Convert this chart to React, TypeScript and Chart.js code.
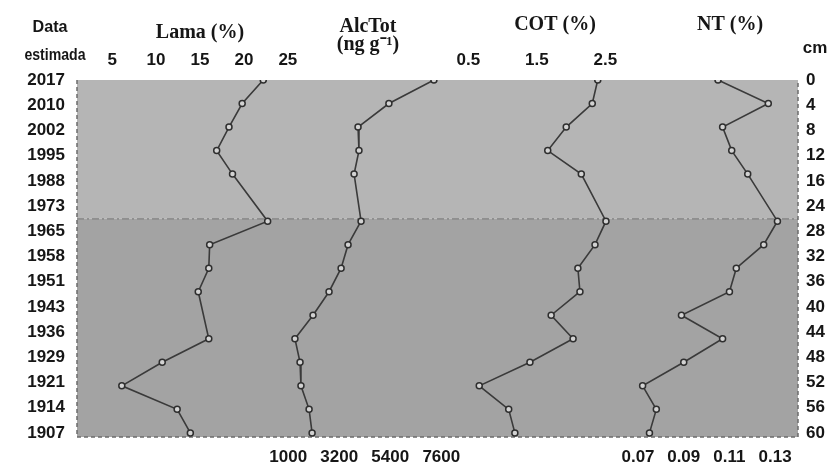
import React, { useEffect, useRef } from "react";
import { Chart, registerables } from "chart.js";

Chart.register(...registerables);

// ---- data (depth in cm, one value per sampled depth; null = not sampled) ----
const depths = [0, 4, 8, 12, 16, 20, 24, 28, 32, 36, 40, 44, 48, 52, 56, 60];
const yearLabels = ["2017", "2010", "2002", "1995", "1988", "1973", "1965", "1958", "1951", "1943", "1936", "1929", "1921", "1914", "1907"];
const depthLabels = ["0", "4", "8", "12", "16", "24", "28", "32", "36", "40", "44", "48", "52", "56", "60"];

const lama = [22.2, 19.8, 18.3, 16.9, 18.7, null, 22.7, 16.1, 16.0, 14.8, null, 16.0, 10.7, 6.1, 12.4, 13.9];
const alcTot = [7280, 5340, 4010, 4050, 3840, null, 4140, 3580, 3280, 2760, 2070, 1290, 1510, 1550, 1900, 2030];
const cot = [2.39, 2.31, 1.93, 1.66, 2.15, null, 2.51, 2.35, 2.1, 2.13, 1.71, 2.03, 1.4, 0.66, 1.09, 1.18];
const nt = [0.105, 0.127, 0.107, 0.111, 0.118, null, 0.131, 0.125, 0.113, 0.11, 0.089, 0.107, 0.09, 0.072, 0.078, 0.075];

const lamaTicks = [5, 10, 15, 20, 25];
const alcTicks = [1000, 3200, 5400, 7600];
const cotTicks = [0.5, 1.5, 2.5];
const ntTicks = [0.07, 0.09, 0.11, 0.13];

// axis ranges (value at left / right edge of each axis strip)
const lamaRange = [1.0, 29.0];
const alcRange = [-8103, 11853];
const cotRange = [-0.307, 3.839];
const ntRange = [0.0271, 0.14];
const depthRange = [0, 60.7];
const labelRange = [0, 14.16];
const boundaryDepth = 23.6;

const SANS = "'Liberation Sans', Arial, sans-serif";
const TICK_FONT = { family: SANS, size: 17, weight: "bold" as const };
const TITLE_FONT = { family: "'Liberation Serif', 'Times New Roman', serif", size: 20, weight: "bold" as const };
const TEXT = "#161616";

const toPoints = (vals: (number | null)[]) =>
  vals.map((v, i) => (v === null ? null : { x: v, y: depths[i] })).filter((p) => p !== null);

const setTicks = (values: number[]) => (scale: any) => {
  scale.ticks = values.map((v) => ({ value: v }));
};

const tickOpts = (padding: number) => ({
  padding,
  color: TEXT,
  font: TICK_FONT,
  maxRotation: 0,
  autoSkip: false,
  callback: (v: any) => String(v),
});

const hAxis = (position: "top" | "bottom", range: number[], weight: number, height: number, extra: any = {}) => ({
  type: "linear",
  axis: "x",
  position,
  min: range[0],
  max: range[1],
  stack: position,
  stackWeight: weight,
  grid: { display: false, drawTicks: false },
  border: { display: false },
  afterFit: (s: any) => {
    s.height = height;
  },
  ...extra,
});

const bandsPlugin = {
  id: "bands",
  beforeDraw(chart: any) {
    const { ctx, chartArea: a, scales } = chart;
    const yb = scales.y.getPixelForValue(boundaryDepth);
    ctx.save();
    ctx.fillStyle = "#b5b5b5";
    ctx.fillRect(a.left, a.top, a.right - a.left, yb - a.top);
    ctx.fillStyle = "#a3a3a3";
    ctx.fillRect(a.left, yb, a.right - a.left, a.bottom - yb);
    ctx.restore();
  },
  beforeDatasetsDraw(chart: any) {
    const { ctx, chartArea: a, scales } = chart;
    const yb = scales.y.getPixelForValue(boundaryDepth);
    ctx.save();
    ctx.strokeStyle = "#808080";
    ctx.lineWidth = 1.3;
    ctx.setLineDash([7, 3, 2, 3]);
    ctx.beginPath();
    ctx.moveTo(a.left, yb);
    ctx.lineTo(a.right, yb);
    ctx.stroke();
    ctx.strokeStyle = "#6c6c6c";
    ctx.lineWidth = 1.5;
    ctx.setLineDash([4, 3]);
    ctx.beginPath();
    ctx.moveTo(a.left, a.top);
    ctx.lineTo(a.left, a.bottom);
    ctx.lineTo(a.right, a.bottom);
    ctx.lineTo(a.right, a.top);
    ctx.stroke();
    ctx.restore();
  },
  afterDraw(chart: any) {
    const { ctx, chartArea: a } = chart;
    const label = (text: string, cx: number, cy: number, size: number, sx: number) => {
      ctx.save();
      ctx.translate(cx, cy);
      ctx.scale(sx, 1);
      ctx.font = `bold ${size}px ${SANS}`;
      ctx.fillText(text, 0, 0);
      ctx.restore();
    };
    ctx.save();
    ctx.fillStyle = TEXT;
    ctx.textAlign = "center";
    ctx.textBaseline = "middle";
    label("Data", a.left - 27, 27, 17, 0.95);
    label("estimada", a.left - 22, 55, 17, 0.83);
    label("cm", a.right + 17, 48, 17, 1);
    ctx.restore();
  },
};

const series = [
  { label: "Lama (%)", values: lama, axis: "xLama" },
  { label: "AlcTot (ng g-1)", values: alcTot, axis: "xAlc" },
  { label: "COT (%)", values: cot, axis: "xCot" },
  { label: "NT (%)", values: nt, axis: "xNt" },
];

export default function App() {
  const ref = useRef<HTMLCanvasElement | null>(null);

  useEffect(() => {
    if (!ref.current) return;
    const chart = new Chart(ref.current, {
      type: "scatter",
      data: {
        datasets: series.map((s) => ({
          label: s.label,
          data: toPoints(s.values) as any,
          xAxisID: s.axis,
          yAxisID: "y",
          showLine: true,
          borderColor: "#3a3a3a",
          borderWidth: 1.6,
          pointRadius: 3,
          pointBorderWidth: 1.5,
          pointBorderColor: "#2e2e2e",
          pointBackgroundColor: "#d2d2d2",
          tension: 0,
        })),
      },
      options: {
        animation: false,
        responsive: true,
        maintainAspectRatio: false,
        layout: { padding: 0 },
        plugins: { legend: { display: false }, tooltip: { enabled: false }, title: { display: false } },
        scales: {
          y: { type: "linear", axis: "y", display: false, reverse: true, min: depthRange[0], max: depthRange[1] },
          yYear: {
            type: "linear",
            axis: "y",
            position: "left",
            reverse: true,
            min: labelRange[0],
            max: labelRange[1],
            grid: { display: false, drawTicks: false },
            border: { display: false },
            afterBuildTicks: setTicks(yearLabels.map((_, i) => i)),
            afterFit: (s: any) => {
              s.width = 77;
            },
            ticks: { padding: 12, color: TEXT, font: TICK_FONT, autoSkip: false, callback: (v: any) => yearLabels[v] },
          },
          yDepth: {
            type: "linear",
            axis: "y",
            position: "right",
            reverse: true,
            min: labelRange[0],
            max: labelRange[1],
            grid: { display: false, drawTicks: false },
            border: { display: false },
            afterBuildTicks: setTicks(depthLabels.map((_, i) => i)),
            afterFit: (s: any) => {
              s.width = 32;
            },
            ticks: { padding: 8, color: TEXT, font: TICK_FONT, autoSkip: false, callback: (v: any) => depthLabels[v] },
          },
          // top axes are laid out right-to-left by Chart.js, so list them in reverse
          xNtTitle: hAxis("top", [0, 1], 101, 80, {
            ticks: { display: false },
            title: { display: true, align: "start", text: "NT (%)", color: TEXT, font: TITLE_FONT, padding: { top: 13, bottom: 0 } },
          }),
          xCot: hAxis("top", cotRange, 284, 80, {
            afterBuildTicks: setTicks(cotTicks),
            ticks: tickOpts(9),
            title: { display: true, text: "COT (%)", color: TEXT, font: TITLE_FONT, padding: { top: 13, bottom: 0 } },
          }),
          xAlcTitle: hAxis("top", [0, 1], 90, 80, {
            ticks: { display: false },
            title: {
              display: true,
              text: ["AlcTot", "(ng g\u207B\u00B9)"],
              color: TEXT,
              font: { ...TITLE_FONT, lineHeight: 0.9 },
              padding: { top: 18, bottom: 0 },
            },
          }),
          xLama: hAxis("top", lamaRange, 246, 80, {
            afterBuildTicks: setTicks(lamaTicks),
            ticks: tickOpts(9),
            title: { display: true, text: "Lama (%)", color: TEXT, font: TITLE_FONT, padding: { top: 21, bottom: 0 } },
          }),
          xAlc: hAxis("bottom", alcRange, 463, 30, {
            afterBuildTicks: setTicks(alcTicks),
            ticks: tickOpts(10),
          }),
          xNt: hAxis("bottom", ntRange, 258, 30, {
            afterBuildTicks: setTicks(ntTicks),
            ticks: tickOpts(10),
          }),
        },
      } as any,
      plugins: [bandsPlugin],
    });
    return () => chart.destroy();
  }, []);

  return (
    <div style={{ position: "fixed", left: 0, top: 0, width: 830, height: 467, background: "#fff" }}>
      <canvas ref={ref} />
    </div>
  );
}
